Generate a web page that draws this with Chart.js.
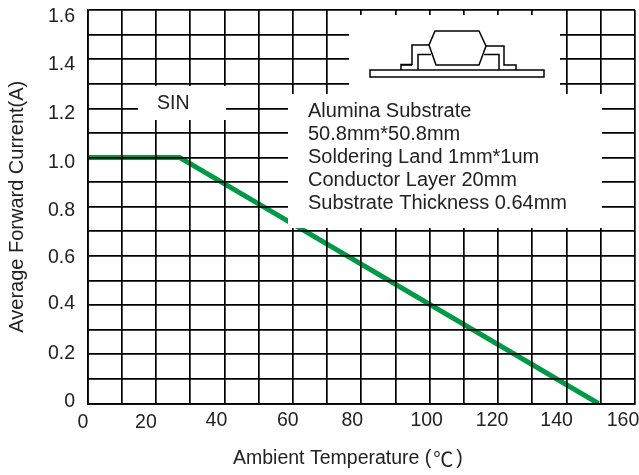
<!DOCTYPE html>
<html>
<head>
<meta charset="utf-8">
<style>
body { margin: 0; background: #fff; }
canvas { display: block; }
</style>
<script src="https://cdn.jsdelivr.net/npm/chart.js@4/dist/chart.umd.min.js"></script>
</head>
<body>
<canvas id="chart" width="639" height="475"></canvas>
<script>
var temperature = [0, 27, 149.3];
var current = [1.0, 1.0, 0];
var xTickValues = [0, 20, 40, 60, 80, 100, 120, 140, 160];
var yTickValues = [1.6, 1.4, 1.2, 1.0, 0.8, 0.6, 0.4, 0.2, 0];
var yTickLabels = ['1.6', '1.4', '1.2', '1.0', '0.8', '0.6', '0.4', '0.2', '0'];
var noteLines = ['Alumina Substrate', '50.8mm*50.8mm', 'Soldering Land 1mm*1um', 'Conductor Layer 20mm', 'Substrate Thickness 0.64mm'];

// the printed labels do not sit exactly on their grid lines in the original
var xNudge = [-4.5, -10, -8, -5, -9, -3, -6, -10, -12];
var xRowY = [423, 423, 421, 421, 421, 421, 421, 421, 421];
var yNudge = [7, 5, 5, 5, 4, 2, -2, -1, -1.5];

var FAMILY = '"Liberation Sans", Arial, sans-serif';
var FONT = '19.5px ' + FAMILY;
var NOTE_FONT = '20px ' + FAMILY;
var CJK_FONT = '20px "Noto Sans CJK SC"';

function poly(ctx, pts, closed) {
    ctx.beginPath();
    pts.forEach(function (p, i) {
        if (i === 0) ctx.moveTo(p[0], p[1]);
        else ctx.lineTo(p[0], p[1]);
    });
    if (closed) ctx.closePath();
    ctx.stroke();
}

var overlay = {
    id: 'overlay',
    afterDraw: function (chart) {
        var ctx = chart.ctx;
        var xs = chart.scales.x;
        var ys = chart.scales.y;
        ctx.save();

        // white boxes cut out of the grid
        ctx.fillStyle = '#fff';
        ctx.fillRect(138, 86, 88, 34);
        ctx.fillRect(288, 94, 314, 134);
        ctx.fillRect(349, 15, 211, 79);

        ctx.fillStyle = '#222';
        ctx.font = FONT;
        ctx.textBaseline = 'middle';

        ctx.textAlign = 'center';
        xTickValues.forEach(function (v, i) {
            ctx.fillText(String(v), xs.getPixelForValue(v) + xNudge[i], xRowY[i]);
        });

        ctx.textAlign = 'right';
        yTickValues.forEach(function (v, i) {
            ctx.fillText(yTickLabels[i], 75, ys.getPixelForValue(v) + yNudge[i]);
        });

        ctx.textAlign = 'left';
        ctx.fillText('SIN', 157, 104);

        // x title: the degree sign is a full width CJK glyph in the original
        var titleHead = 'Ambient Temperature (';
        var titleX = 233;
        ctx.fillText(titleHead, titleX, 459);
        titleX += ctx.measureText(titleHead).width + 2;
        ctx.font = CJK_FONT;
        ctx.fillText('℃', titleX, 459);
        titleX += ctx.measureText('℃').width + 3;
        ctx.font = FONT;
        ctx.fillText(')', titleX, 459);

        ctx.font = NOTE_FONT;
        noteLines.forEach(function (line, i) {
            ctx.fillText(line, 308, 111 + i * 23);
        });

        // package sketch
        ctx.strokeStyle = '#000';
        ctx.lineWidth = 1.5;
        ctx.strokeRect(370, 70, 174, 7);
        poly(ctx, [[435, 31], [479, 31], [486, 46], [479, 65], [436, 65], [429, 45]], true);
        poly(ctx, [[429, 45], [412, 45], [412, 64.5], [401, 64.5], [401, 70]]);
        poly(ctx, [[431, 54.5], [418, 54.5], [418, 70]]);
        poly(ctx, [[486, 46], [504, 46], [504, 65], [516, 65], [516, 70]]);
        poly(ctx, [[484, 54.5], [499, 54.5], [499, 70]]);
        poly(ctx, [[401, 65], [412, 65]]);
        ctx.restore();
    }
};

new Chart(document.getElementById('chart'), {
    type: 'line',
    data: {
        datasets: [{
            data: temperature.map(function (t, i) { return { x: t, y: current[i] }; }),
            borderColor: '#009a46',
            borderWidth: 5,
            pointRadius: 0,
            tension: 0,
            borderJoinStyle: 'bevel'
        }]
    },
    options: {
        responsive: false,
        animation: false,
        layout: { padding: { top: 10, right: 4, bottom: 0, left: 0 } },
        plugins: { legend: { display: false }, tooltip: { enabled: false } },
        scales: {
            x: {
                type: 'linear',
                min: 0,
                max: 160,
                afterFit: function (s) { s.height = 71.5; },
                ticks: { display: false, stepSize: 10 },
                grid: { color: '#000', lineWidth: 1.7, drawTicks: false, z: 1 },
                border: { color: '#000', width: 1.7, z: 1 }
            },
            y: {
                min: 0,
                max: 1.6,
                afterFit: function (s) { s.width = 87.5; },
                ticks: { display: false, stepSize: 0.1 },
                grid: { color: '#000', lineWidth: 1.7, drawTicks: false, z: 1 },
                border: { color: '#000', width: 1.7, z: 1 },
                title: {
                    display: true,
                    text: 'Average Forward Current(A)',
                    color: '#222',
                    font: { family: FAMILY, size: 20 },
                    padding: { top: 5, bottom: 0 }
                }
            }
        }
    },
    plugins: [overlay]
});
</script>
</body>
</html>
